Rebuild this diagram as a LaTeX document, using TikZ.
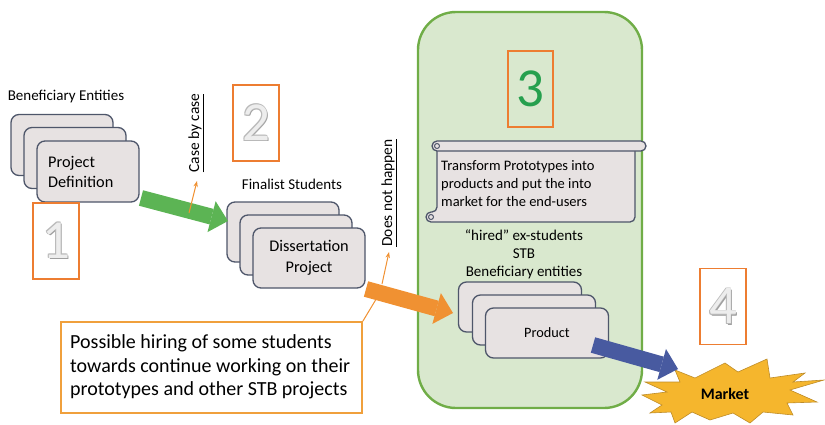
\documentclass[tikz,border=0pt]{standalone}
\usepackage{fontspec}
\setmainfont{Carlito}
\usetikzlibrary{arrows.meta,calc}

\definecolor{boxfill}{RGB}{231,226,226}
\definecolor{boxline}{RGB}{78,86,106}
\definecolor{numorange}{RGB}{237,125,49}
\definecolor{arrgreen}{RGB}{92,180,84}
\definecolor{arrorange}{RGB}{240,145,50}
\definecolor{arrblue}{RGB}{72,90,160}
\definecolor{panelfill}{RGB}{217,232,206}
\definecolor{panelline}{RGB}{112,173,71}
\definecolor{digitgreen}{RGB}{38,160,78}
\definecolor{burstfill}{RGB}{245,182,45}
\definecolor{burstline}{RGB}{190,140,40}
\definecolor{calloutline}{RGB}{240,160,60}

% embossed grey digit: dark outline copies, a shadow, then a light face
\newcommand{\embdigit}[1]{%
  \makebox[0pt][l]{\hspace{1.3pt}\raisebox{-1.3pt}{\color{gray!75}#1}}%
  \makebox[0pt][l]{\hspace{-0.6pt}\raisebox{0.6pt}{\color{gray!55}#1}}%
  \makebox[0pt][l]{\hspace{0.6pt}\raisebox{-0.6pt}{\color{gray!55}#1}}%
  \makebox[0pt][l]{\hspace{0.6pt}\raisebox{0.6pt}{\color{gray!55}#1}}%
  \makebox[0pt][l]{\hspace{-0.6pt}\raisebox{-0.6pt}{\color{gray!55}#1}}%
  {\color{gray!14}#1}}

\begin{document}
\begin{tikzpicture}[x=1pt,y=-1pt,
  stackbox/.style={draw=boxline, fill=boxfill, line width=1.3pt, rounded corners=8pt, inner sep=0pt},
  numbox/.style={draw=numorange, line width=1.8pt, minimum width=46pt, minimum height=76pt, inner sep=0pt,
                 font=\fontsize{55}{55}\selectfont},
  fat/.style={line width=16pt, -{Triangle[length=17pt,width=32pt,line width=0pt]}},
  thinarrow/.style={draw=arrorange, line width=1pt, -{Stealth[length=6pt,width=4.5pt]}},
  lbl/.style={font=\fontsize{15}{18}\selectfont, inner sep=0pt},
  boxtext/.style={font=\fontsize{16.3}{20.5}\selectfont, inner sep=0pt},
  midtext/.style={font=\fontsize{14.5}{18}\selectfont, inner sep=0pt},
]
\useasboundingbox (0,0) rectangle (825,424);

% ---------- stage 3 panel ----------
\node[draw=panelline, fill=panelfill, line width=2.4pt, rounded corners=38pt,
      minimum width=224pt, minimum height=396pt, inner sep=0pt] (stage) at (530,210) {};

% ---------- stage 1: beneficiary entities ----------
\node[lbl] (benef) at (66,97) {Beneficiary Entities};
\node[stackbox, minimum width=102pt, minimum height=61pt] (pd3) at (62,145) {};
\node[stackbox, minimum width=102pt, minimum height=61pt] (pd2) at (75,158) {};
\node[stackbox, minimum width=102pt, minimum height=61pt] (pd1) at (88,171.5) {};
\node[boxtext, anchor=west, align=left] (pdtext) at (48,172) {Project\\Definition};
\node[numbox] (n1) at (56,241) {\embdigit{1}};

% ---------- stage 2: finalist students ----------
\node[numbox] (n2) at (256,123) {\embdigit{2}};
\node[lbl] (finalist) at (292,184) {Finalist Students};
\node[stackbox, minimum width=112pt, minimum height=60pt] (dp3) at (283,232) {};
\node[stackbox, minimum width=112pt, minimum height=60pt] (dp2) at (296,245) {};
\node[stackbox, minimum width=112pt, minimum height=60pt, boxtext, align=center] (dp1) at (309,258)
  {Dissertation\\Project};

% ---------- stage 3 contents ----------
\node[numbox, text=digitgreen, minimum width=45pt] (n3) at (530.5,89) {3};

% scroll
\draw[draw=boxline, fill=boxfill, line width=1.3pt, rounded corners=5pt]
  (437,149) -- (437,212) -- (426,212) -- (426,222) -- (635,222) -- (635,149);
\draw[draw=boxline, fill=boxfill, line width=1.3pt, rounded corners=5pt]
  (432,141) rectangle (646,151);
\draw[boxline, line width=1pt] (437,146) circle (2.5);
\draw[boxline, line width=1pt] (431,217) circle (2.5);
\node[midtext, anchor=west, align=left] (scrolltext) at (441,184)
  {Transform Prototypes into\\products and put the into\\market for the end-users};

\node[font=\fontsize{15}{18.2}\selectfont, inner sep=0pt, align=center] (actors) at (524,254)
  {``hired'' ex-students\\STB\\Beneficiary entities};

\node[stackbox, minimum width=123pt, minimum height=50pt] (pr3) at (520,307) {};
\node[stackbox, minimum width=123pt, minimum height=50pt] (pr2) at (534,320) {};
\node[stackbox, minimum width=123pt, minimum height=50pt, font=\fontsize{14.3}{17}\selectfont] (pr1) at (547,333) {Product};

% ---------- stage 4: market ----------
\node[numbox] (n4) at (723,306.5) {\embdigit{4}};
\draw[fill=burstfill, draw=burstline, line width=0.6pt, line join=miter]
  (675,370) -- (695,378) -- (725,363) -- (738,372) -- (767,359) -- (770,378) -- (805,373)
  -- (793,382) -- (824,380) -- (790,390) -- (817,402) -- (787,403) -- (793,415) -- (763,412)
  -- (750,423) -- (733,413) -- (710,420) -- (692,412) -- (675,423) -- (671,412) -- (650,413)
  -- (662,405) -- (642,395) -- (667,392) -- (645,382) -- (680,382) -- cycle;
\node[font=\fontsize{16}{18}\selectfont\bfseries, inner sep=0pt] (market) at (725,394) {Market};

% ---------- callout ----------
\node[draw=calloutline, line width=1.8pt, minimum width=301pt, minimum height=91pt, inner sep=0pt]
  (callout) at (211.5,367.5) {};
\node[font=\fontsize{20}{23.5}\selectfont, anchor=west, align=left, inner sep=0pt] (callouttext) at (70,367)
  {Possible hiring of some students\\towards continue working on their\\prototypes and other STB projects};

% ---------- flow arrows ----------
\coordinate (g0) at (141,198);  \coordinate (g1) at (228,221);
\coordinate (o0) at (366,289);  \coordinate (o1) at (453,313);
\coordinate (b0) at (593,345);  \coordinate (b1) at (678,369);
\draw[fat, draw=arrgreen, fill=arrgreen] (g0) -- (g1);
\draw[fat, draw=arrorange, fill=arrorange] (o0) -- (o1);
\draw[fat, draw=arrblue, fill=arrblue] (b0) -- (b1);

% ---------- side notes ----------
\coordinate (c0) at (189,213); \coordinate (c1) at (197,181);
\draw[thinarrow] (c0) -- (c1);
\node[font=\fontsize{15.4}{18}\selectfont, inner sep=0pt, rotate=90] (casebycase) at (196,133) {\underline{Case by case}};

\coordinate (d0) at (382,284); \coordinate (d1) at (389,252);
\draw[thinarrow] (d0) -- (d1);
\node[font=\fontsize{15.4}{18}\selectfont, inner sep=0pt, rotate=90] (doesnot) at (389,193) {\underline{Does not happen}};

\coordinate (k1) at (381,291);
\draw[draw=arrorange, line width=1pt] (callout.north east) -- (k1);

\end{tikzpicture}
\end{document}
